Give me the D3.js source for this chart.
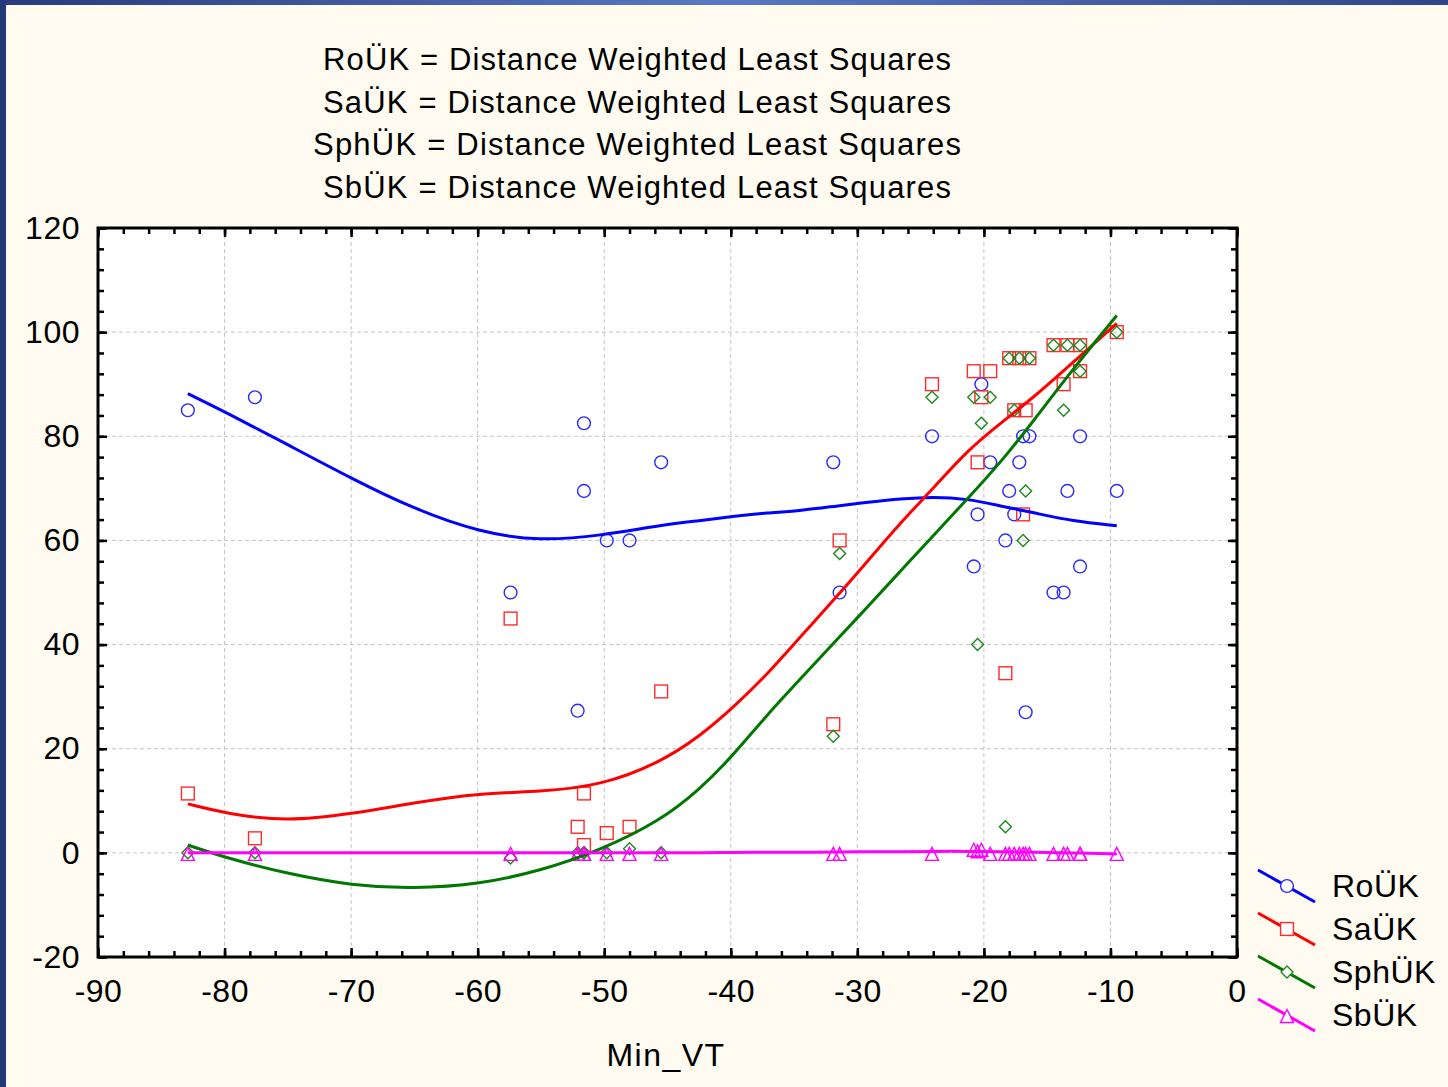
<!DOCTYPE html>
<html>
<head>
<meta charset="utf-8">
<script src="https://d3js.org/d3.v7.min.js"></script>
<style>
  body { margin: 0; background: #fffbf0; }
  svg { display: block; }
  text { font-family: "Liberation Sans", Arial, sans-serif; fill: #000; }
</style>
</head>
<body>
<svg id="chart" width="1448" height="1087"></svg>
<script>
// observations (Min_VT and the four measured series)
const minVT = [-82.9, -77.6, -57.4, -52.1, -51.6, -51.6, -49.8, -48.0, -45.5, -31.9, -31.4, -24.1,
  -20.8, -20.5, -20.2, -19.5, -18.3, -18.0, -17.6, -17.2, -16.9, -16.7, -16.4,
  -14.5, -13.7, -13.4, -12.4, -12.4, -9.5];
const roUK  = [85, 87.5, 50, 27.3, 82.5, 69.5, 60, 60, 75, 75, 50, 80,
  55, 65, 90, 75, 60, 69.5, 65, 75, 80, 27, 80,
  50, 50, 69.5, 80, 55, 69.5];
const saUK  = [11.4, 2.8, 45, 5, 11.4, 1.5, 3.8, 5, 31, 24.7, 60, 90,
  92.5, 75, 87.5, 92.5, 34.5, 95, 85, 95, 65, 85, 95,
  97.5, 90, 97.5, 97.5, 92.5, 100];
const sphUK = [0, 0, -1, 0, 0, 0, 0, 0.8, 0, 22.4, 57.5, 87.5,
  87.5, 40, 82.5, 87.5, 5, 95, 85, 95, 60, 69.5, 95,
  97.5, 85, 97.5, 97.5, 92.5, 100];
const sbUK  = [0, 0, 0, 0, 0, 0, 0, 0, 0, 0, 0, 0,
  0.8, 0.5, 0.8, 0, 0, 0, 0, 0, 0, 0, 0,
  0, 0, 0, 0, 0, 0];

// fitted DWLS curves
const fitX   = [-82.9, -79.8, -75.1, -69.9, -65.1, -59.8, -55.1, -50.3, -45.6, -42.4, -39.9,
  -37.1, -34.5, -31.4, -29.2, -26.6, -24.0, -21.3, -18.7, -16, -13, -9.5];
const fitRo  = [88.2, 84.5, 78.5, 71.8, 66.1, 61.5, 59.9, 60.9, 62.9, 63.8, 64.6,
  65.3, 65.7, 66.7, 67.3, 68.0, 68.4, 68.0, 66.6, 65.3, 63.7, 62.8];
const fitSa  = [9.4, 7.5, 6.0, 7.5, 9.6, 11.5, 11.7, 12.9, 17.3, 22.5, 27.7,
  34.3, 41.5, 49.8, 56.0, 63.4, 70.0, 77.3, 82.5, 87.6, 94.1, 101.7];
const fitSph = [1.5, -1.0, -4.0, -6.3, -6.9, -6.0, -3.5, 0.5, 6.1, 12.3, 18.5,
  26.6, 33.4, 41.5, 47.2, 54.1, 60.9, 68.0, 74.9, 83.2, 92.8, 103.2];
const fitSb  = [0, 0, 0, 0, 0, 0, 0, 0, 0, 0, 0.1,
  0.1, 0.1, 0.2, 0.2, 0.2, 0.3, 0.3, 0.2, 0.1, 0, -0.2];

const titles = ["RoÜK = Distance Weighted Least Squares", "SaÜK = Distance Weighted Least Squares",
  "SphÜK = Distance Weighted Least Squares", "SbÜK = Distance Weighted Least Squares"];
const titleWidths = [628, 628, 648, 628];
const xTicks = [-90, -80, -70, -60, -50, -40, -30, -20, -10, 0];
const yTicks = [-20, 0, 20, 40, 60, 80, 100, 120];

const series = [
  {name: "RoÜK", vals: roUK, fit: fitRo, color: "#0000ff", mark: "#2a2aff", shape: "circle"},
  {name: "SaÜK", vals: saUK, fit: fitSa, color: "#ff0000", mark: "#ff2a2a", shape: "square"},
  {name: "SphÜK", vals: sphUK, fit: fitSph, color: "#007700", mark: "#1e8a1e", shape: "diamond"},
  {name: "SbÜK", vals: sbUK, fit: fitSb, color: "#ff00ff", mark: "#ff00ff", shape: "triangle"}
];

const svg = d3.select("#chart");
const L = 98, R = 1237, T = 228, B = 957;
const x = d3.scaleLinear().domain([-90, 0]).range([L, R]);
const y = d3.scaleLinear().domain([-20, 120]).range([B, T]);

// window frame
const defs = svg.append("defs");
const g1 = defs.append("linearGradient").attr("id", "topg");
g1.append("stop").attr("offset", "0").attr("stop-color", "#263c7c");
g1.append("stop").attr("offset", "0.5").attr("stop-color", "#5b78c6");
g1.append("stop").attr("offset", "1").attr("stop-color", "#2f4688");
svg.append("rect").attr("x", 0).attr("y", 0).attr("width", 1448).attr("height", 5).attr("fill", "url(#topg)");
svg.append("rect").attr("x", 0).attr("y", 0).attr("width", 6).attr("height", 1087).attr("fill", "#233a78");

// titles
svg.append("g").selectAll("text").data(titles).join("text")
  .attr("x", 637).attr("y", (d, i) => 70 + i * 42.5)
  .attr("text-anchor", "middle").style("font-size", "31px")
  .attr("textLength", (d, i) => titleWidths[i]).attr("lengthAdjust", "spacing")
  .text(d => d);

// plot background
svg.append("rect").attr("x", L).attr("y", T).attr("width", R - L).attr("height", B - T).attr("fill", "#fff");

// grid
const grid = svg.append("g").attr("stroke", "#c4c4c4").attr("stroke-width", 1).attr("stroke-dasharray", "4,3");
grid.selectAll(".gx").data(xTicks.slice(1, -1)).join("line")
  .attr("x1", d => x(d)).attr("x2", d => x(d)).attr("y1", T).attr("y2", B);
grid.selectAll(".gy").data(yTicks.slice(1, -1)).join("line")
  .attr("y1", d => y(d)).attr("y2", d => y(d)).attr("x1", L).attr("x2", R);

// axes with inward ticks on all four sides
const fmt = d => String(d);
const xMinor = d3.range(-90, 0.1, 2);
const yMinor = d3.range(-20, 120.1, 4);
svg.append("g").attr("transform", `translate(0,${B})`)
  .call(d3.axisBottom(x).tickValues(xMinor).tickSize(-6).tickFormat(""));
svg.append("g").attr("transform", `translate(0,${B})`)
  .call(d3.axisBottom(x).tickValues(xTicks).tickSize(-9).tickPadding(22).tickFormat(fmt));
svg.append("g").attr("transform", `translate(0,${T})`)
  .call(d3.axisTop(x).tickValues(xMinor).tickSize(-6).tickFormat(""));
svg.append("g").attr("transform", `translate(0,${T})`)
  .call(d3.axisTop(x).tickValues(xTicks).tickSize(-9).tickFormat(""));
svg.append("g").attr("transform", `translate(${L},0)`)
  .call(d3.axisLeft(y).tickValues(yMinor).tickSize(-6).tickFormat(""));
svg.append("g").attr("transform", `translate(${L},0)`)
  .call(d3.axisLeft(y).tickValues(yTicks).tickSize(-9).tickPadding(18).tickFormat(fmt));
svg.append("g").attr("transform", `translate(${R},0)`)
  .call(d3.axisRight(y).tickValues(yMinor).tickSize(-6).tickFormat(""));
svg.append("g").attr("transform", `translate(${R},0)`)
  .call(d3.axisRight(y).tickValues(yTicks).tickSize(-9).tickFormat(""));
svg.selectAll(".domain").remove();
svg.selectAll(".tick line").attr("stroke", "#000").attr("stroke-width", 2.5);
svg.selectAll(".tick text").style("font-size", "32px").style("letter-spacing", "0.5px")
  .style("font-family", "'Liberation Sans', Arial, sans-serif").attr("fill", "#000");
svg.append("rect").attr("x", L).attr("y", T).attr("width", R - L).attr("height", B - T)
  .attr("fill", "none").attr("stroke", "#000").attr("stroke-width", 3);

// axis title
svg.append("text").attr("x", 666).attr("y", 1066).attr("text-anchor", "middle")
  .style("font-size", "32px").style("letter-spacing", "1.5px").text("Min_VT");

// marker shapes
function drawMark(sel, shape, color) {
  if (shape === "circle") {
    sel.append("circle").attr("r", 6.4);
  } else if (shape === "square") {
    sel.append("rect").attr("x", -6.4).attr("y", -6.4).attr("width", 12.8).attr("height", 12.8);
  } else if (shape === "diamond") {
    sel.append("path").attr("d", "M0,-6 L6,0 L0,6 L-6,0 Z");
  } else {
    sel.append("path").attr("d", "M0,-5.5 L6.5,7.5 L-6.5,7.5 Z");
  }
  sel.selectAll("*").attr("fill", "none").attr("stroke", color).attr("stroke-width", 1.4);
}

// scatter points
series.forEach(s => {
  svg.append("g").selectAll("g").data(minVT.map((v, i) => [v, s.vals[i]])).join("g")
    .attr("transform", d => `translate(${x(d[0])},${y(d[1])})`)
    .each(function () { drawMark(d3.select(this), s.shape, s.mark); });
});

// fitted curves (basis spline smooths the reading noise)
const line = d3.line().x(d => x(d[0])).y(d => y(d[1])).curve(d3.curveBasis);
series.forEach(s => {
  svg.append("path").datum(fitX.map((v, i) => [v, s.fit[i]]))
    .attr("d", line).attr("fill", "none").attr("stroke", s.color).attr("stroke-width", 3);
});

// legend
const lg = svg.append("g").attr("transform", "translate(1258,870)");
series.forEach((s, i) => {
  const row = lg.append("g").attr("transform", `translate(0,${i * 43})`);
  row.append("line").attr("x1", 0).attr("y1", 0).attr("x2", 57).attr("y2", 32)
    .attr("stroke", s.color).attr("stroke-width", 3);
  const m = row.append("g").attr("transform", "translate(29,16)");
  drawMark(m, s.shape, s.mark);
  m.selectAll("*").attr("fill", "#fff");
  row.append("text").attr("x", 74).attr("y", 27).style("font-size", "32px").style("letter-spacing", "0.5px").text(s.name);
});
</script>
</body>
</html>
